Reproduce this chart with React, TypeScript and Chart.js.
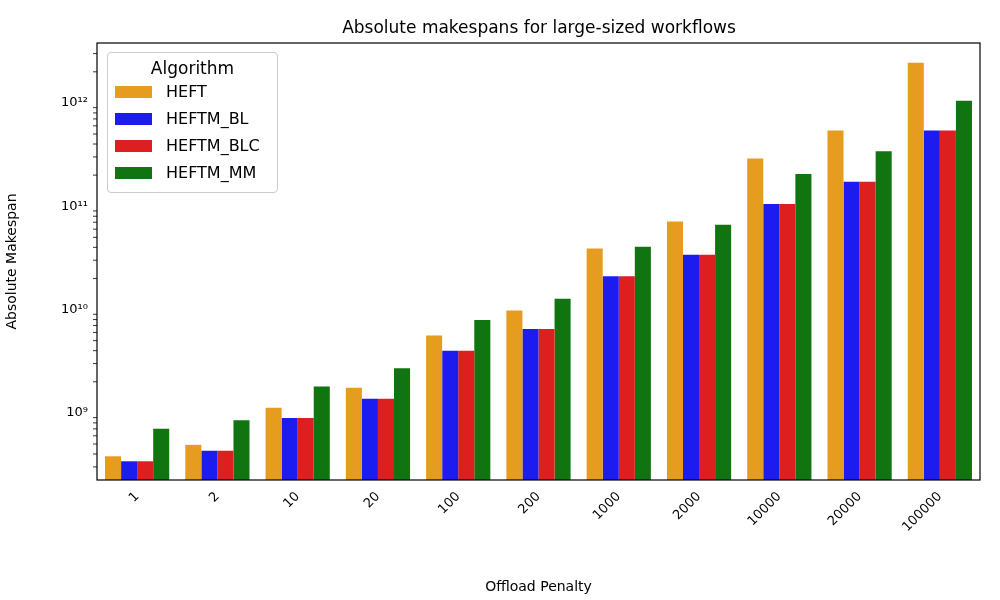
import { useEffect, useRef } from "react"
import { Chart, registerables } from "chart.js"

Chart.register(...registerables)

const penalties = ["1", "2", "10", "20", "100", "200", "1000", "2000", "10000", "20000", "100000"]
const heft = [3.8e8, 4.9e8, 1.12e9, 1.75e9, 5.6e9, 9.8e9, 3.9e10, 7.1e10, 2.9e11, 5.4e11, 2.45e12]
const heftmBL = [3.4e8, 4.3e8, 8.9e8, 1.37e9, 4.0e9, 6.5e9, 2.1e10, 3.4e10, 1.05e11, 1.73e11, 5.4e11]
const heftmBLC = [3.4e8, 4.3e8, 8.9e8, 1.37e9, 4.0e9, 6.5e9, 2.1e10, 3.4e10, 1.05e11, 1.73e11, 5.4e11]
const heftmMM = [7.0e8, 8.5e8, 1.8e9, 2.7e9, 7.9e9, 1.27e10, 4.05e10, 6.6e10, 2.05e11, 3.4e11, 1.05e12]
const seriesNames = ["HEFT", "HEFTM_BL", "HEFTM_BLC", "HEFTM_MM"]
const seriesColors = ["#e69c1e", "#1c1cf0", "#de1f1f", "#107510"]
const decadeTicks = [1e9, 1e10, 1e11, 1e12]

const sup: Record<string, string> = { "0": "⁰", "1": "¹", "2": "²", "3": "³", "4": "⁴", "5": "⁵", "6": "⁶", "7": "⁷", "8": "⁸", "9": "⁹" }
const FONT = "'DejaVu Sans', sans-serif"

const boxPlugin = {
  id: "box",
  afterDraw(chart: Chart) {
    const { ctx, chartArea: a } = chart
    ctx.save()
    ctx.strokeStyle = "#000"
    ctx.lineWidth = 1.2
    ctx.strokeRect(a.left, a.top, a.right - a.left, a.bottom - a.top)
    // minor ticks on the log axis
    const y = chart.scales.y
    ctx.lineWidth = 0.8
    for (let e = 8; e <= 12; e++) {
      for (let m = 2; m <= 9; m++) {
        const v = m * Math.pow(10, e)
        const py = y.getPixelForValue(v)
        if (py < a.top || py > a.bottom) continue
        ctx.beginPath()
        ctx.moveTo(a.left, py)
        ctx.lineTo(a.left - 4, py)
        ctx.stroke()
      }
    }
    ctx.restore()
  },
}

export default function App() {
  const chartRef = useRef<HTMLCanvasElement>(null)
  const chartInstance = useRef<Chart | null>(null)

  useEffect(() => {
    if (!chartRef.current) return
    if (chartInstance.current) chartInstance.current.destroy()
    const ctx = chartRef.current.getContext("2d")
    if (!ctx) return

    const data = [heft, heftmBL, heftmBLC, heftmMM]
    chartInstance.current = new Chart(ctx, {
      type: "bar",
      data: {
        labels: penalties,
        datasets: seriesNames.map((name, i) => ({
          label: name,
          data: data[i],
          backgroundColor: seriesColors[i],
          borderWidth: 0,
          categoryPercentage: 0.8,
          barPercentage: 1,
        })),
      },
      options: {
        responsive: false,
        animation: false,
        layout: { padding: { top: 43, right: 20, left: 0, bottom: 0 } },
        plugins: { legend: { display: false }, tooltip: { enabled: false } },
        scales: {
          x: {
            grid: { display: false, drawTicks: true, tickLength: 6, color: "#000" },
            border: { display: false },
            ticks: { color: "#000", font: { family: FONT, size: 13 }, maxRotation: 45, minRotation: 45 },
            title: { display: true, text: "Offload Penalty", color: "#000", font: { family: FONT, size: 14 }, padding: { top: 4 } },
            afterFit: (s: any) => { s.height = 120 },
          },
          y: {
            type: "logarithmic",
            min: 2.24e8,
            max: 3.8e12,
            grid: { display: false, drawTicks: true, tickLength: 6, color: "#000" },
            border: { display: false },
            afterBuildTicks: (s: any) => { s.ticks = decadeTicks.map((v) => ({ value: v })) },
            ticks: {
              color: "#000",
              font: { family: FONT, size: 13 },
              callback: (v: any) => "10" + String(Math.round(Math.log10(Number(v)))).split("").map((c) => sup[c]).join(""),
            },
            title: { display: true, text: "Absolute Makespan", color: "#000", font: { family: FONT, size: 14 } },
            afterFit: (s: any) => { s.width = 97 },
          },
        },
      },
      plugins: [boxPlugin],
    })

    return () => {
      if (chartInstance.current) chartInstance.current.destroy()
    }
  }, [])

  return (
    <div style={{ position: "fixed", left: 0, top: 0, width: 1000, height: 600, background: "#fff", fontFamily: FONT }}>
      <canvas ref={chartRef} width={1000} height={600} />
      <div style={{ position: "absolute", top: 17, left: 0, width: 1078, textAlign: "center", fontSize: 17, color: "#000" }}>
        Absolute makespans for large-sized workflows
      </div>
      <div style={{ position: "absolute", left: 107, top: 52, width: 171, height: 141, border: "1px solid #ccc", borderRadius: 4, background: "rgba(255,255,255,0.8)", boxSizing: "border-box" }}>
        <div style={{ textAlign: "center", fontSize: 17, marginTop: 5 }}>Algorithm</div>
        {seriesNames.map((n, i) => (
          <div key={n} style={{ display: "flex", alignItems: "center", height: 27, fontSize: 16, paddingLeft: 7 }}>
            <span style={{ display: "inline-block", width: 37, height: 12, background: seriesColors[i], marginRight: 14 }} />
            {n}
          </div>
        ))}
      </div>
    </div>
  )
}
